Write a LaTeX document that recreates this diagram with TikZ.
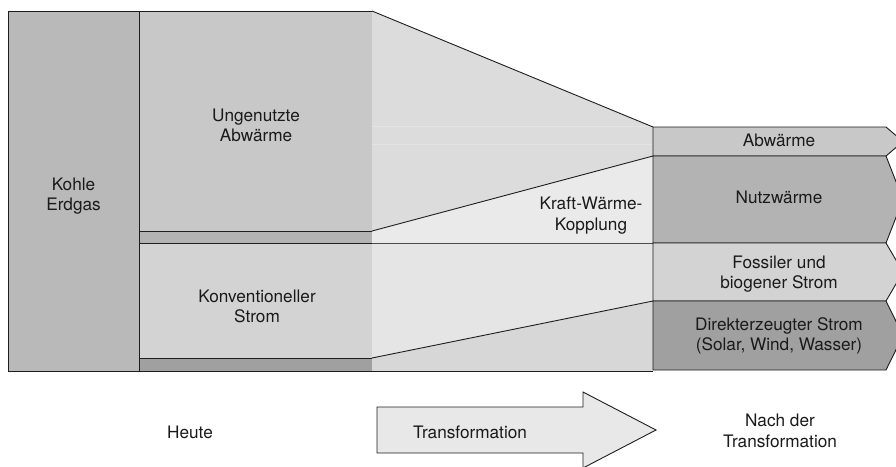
\documentclass[tikz,border=0pt]{standalone}
\usepackage{fontspec}
\setmainfont{TeX Gyre Heros}
\definecolor{cKohle}{HTML}{B9B9B9}
\definecolor{cUng}{HTML}{C8C8C8}
\definecolor{cStrip}{HTML}{B3B3B3}
\definecolor{cKonv}{HTML}{D3D3D3}
\definecolor{cDark}{HTML}{A0A0A0}
\definecolor{cTrap}{HTML}{DCDCDC}
\definecolor{cKWK}{HTML}{EAEAEA}
\definecolor{cLow}{HTML}{E5E5E5}
\definecolor{cLowB}{HTML}{D7D7D7}
\definecolor{cArrow}{HTML}{E8E8E8}
\definecolor{cLine}{HTML}{1E1E1E}
\definecolor{cText}{HTML}{1A1A1A}
\definecolor{cSeam}{HTML}{E3E3E3}
\tikzset{
  outl/.style={draw=cLine, line width=0.9pt, line join=miter},
  lbl/.style={font=\fontsize{17.2}{20.5}\selectfont, align=center, text=cText, inner sep=0pt},
}
\begin{document}
\begin{tikzpicture}[x=1pt,y=-1pt]
\useasboundingbox (0,0) rectangle (896,466);
\clip (0,0) rectangle (896,466);
% left column
\path[outl, fill=cKohle] (8,11) rectangle (139,371);
% middle column
\path[outl, fill=cUng] (139,11) rectangle (372,231);
\path[outl, fill=cStrip] (139,231) rectangle (372,243);
\path[outl, fill=cKonv] (139,243) rectangle (372,358);
\path[outl, fill=cDark] (139,358) rectangle (372,371);
% transition regions
\fill[cTrap] (372,11) -- (653,127) -- (653,156) -- (372,231) -- cycle;
\draw[cSeam, line width=0.6pt] (372,126) -- (653,126);
\draw[cSeam, line width=0.6pt] (372,144) -- (653,144);
\fill[cKWK] (372,231) -- (653,156) -- (653,243) -- (372,243) -- cycle;
\fill[cLow] (372,243) -- (653,243) -- (653,301) -- (372,358) -- cycle;
\fill[cLowB] (372,358) -- (653,301) -- (653,371) -- (372,371) -- cycle;
\draw[outl] (372,11) -- (653,127);
\draw[outl] (372,231) -- (653,156);
\draw[draw=black!70, line width=0.9pt] (372,243) -- (653,243);
\draw[outl] (372,358) -- (653,301);
\draw[outl] (372,371) -- (653,371);
% right boxes
\path[outl, fill=cUng]  (653,127) -- (886,127) -- (903,141.5) -- (886,156) -- (653,156) -- cycle;
\path[outl, fill=cStrip] (653,156) -- (886,156) -- (903,199.5) -- (886,243) -- (653,243) -- cycle;
\path[outl, fill=cKonv] (653,243) -- (886,243) -- (903,272) -- (886,301) -- (653,301) -- cycle;
\path[outl, fill=cDark] (653,301) -- (886,301) -- (903,335.5) -- (886,370) -- (653,370) -- cycle;
% arrow
\path[outl, fill=cArrow] (377,407) -- (583,407) -- (583,392) -- (656,430) -- (583,468) -- (583,453) -- (377,453) -- cycle;
% labels
\node[lbl] (kohle) at (73.5,196) {Kohle\\Erdgas};
\node[lbl] (ungen) at (256,125.5) {Ungenutzte\\Abwärme};
\node[lbl] (konv) at (257,306.5) {Konventioneller\\Strom};
\node[lbl] (kwk) at (591,215.5) {Kraft-Wärme-\\Kopplung};
\node[lbl, anchor=base] (abw) at (779,146) {Abwärme};
\node[lbl, anchor=base] (nutz) at (779,203.3) {Nutzwärme};
\node[lbl] (foss) at (779,274) {Fossiler und\\biogener Strom};
\node[lbl] (direkt) at (779,336) {Direkterzeugter Strom\\(Solar, Wind, Wasser)};
\node[lbl, anchor=base] (heute) at (190,438.3) {Heute};
\node[lbl, anchor=base] (trans) at (470,438.3) {Transformation};
\node[lbl] (nach) at (780,431) {Nach der\\Transformation};
\end{tikzpicture}
\end{document}
